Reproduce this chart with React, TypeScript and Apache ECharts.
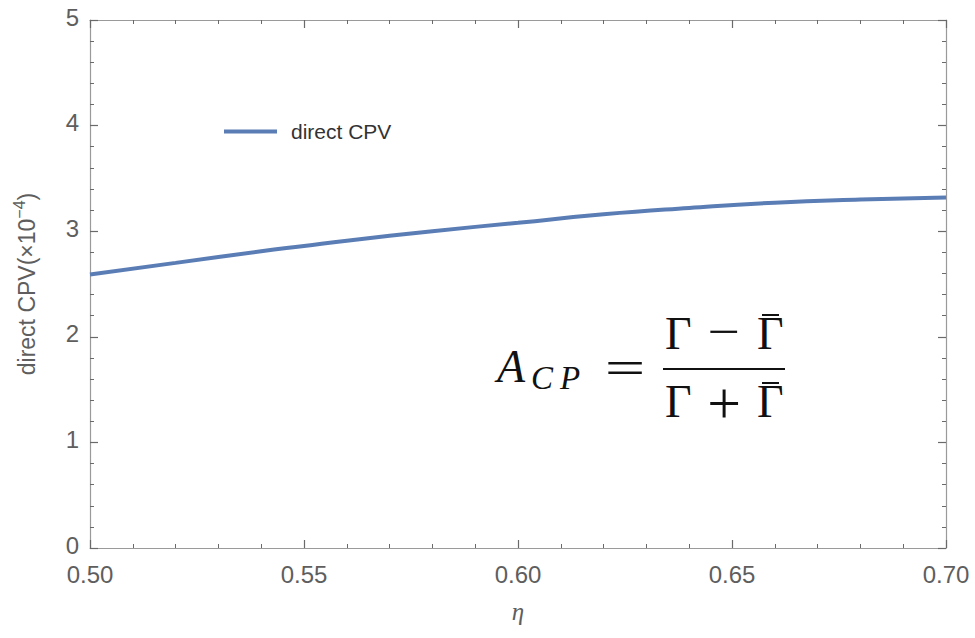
import React, { useEffect, useRef } from "react";
import * as echarts from "echarts";

const etaValues = [0.5, 0.52, 0.54, 0.55, 0.56, 0.58, 0.6, 0.62, 0.64, 0.66, 0.68, 0.7];
const cpvValues = [2.59, 2.7, 2.81, 2.86, 2.91, 3.0, 3.08, 3.16, 3.22, 3.27, 3.3, 3.32];
const seriesName = "direct CPV";
const xTicks = { min: 0.5, max: 0.7, interval: 0.05 };
const yTicks = { min: 0, max: 5, interval: 1 };

const SANS = "'Liberation Sans', Arial, sans-serif";
const SERIF = "'Liberation Serif', 'Times New Roman', serif";
const FRAME = "#9a9a9a";
const TICK = "#6a6a6a";
const LABEL = "#5e5e5e";

export default function App() {
  const ref = useRef<HTMLDivElement>(null);
  useEffect(() => {
    document.body.style.margin = "0";
    const chart = echarts.init(ref.current!, null, { renderer: "svg" });
    const frameAxis = (pos: string) => ({
      axisLine: { show: true, onZero: false, lineStyle: { color: FRAME, width: 1.2 } },
      axisTick: { show: true, inside: true, length: 8, lineStyle: { color: TICK, width: 1.2 } },
      minorTick: { show: true, splitNumber: 5, length: 4, lineStyle: { color: TICK, width: 1 } },
      splitLine: { show: false },
      position: pos,
    });
    const option: any = {
      animation: false,
      backgroundColor: "#ffffff",
      grid: { left: 90, right: 29, top: 20, bottom: 90, containLabel: false, outerBoundsMode: "none" },
      legend: {
        data: [seriesName],
        left: 219,
        top: 116,
        icon: "rect",
        itemWidth: 53,
        itemHeight: 4,
        textStyle: { fontSize: 21, color: "#333", fontFamily: SANS, padding: [0, 0, 0, 9] },
      },
      xAxis: [
        {
          type: "value",
          ...xTicks,
          ...frameAxis("bottom"),
          axisLabel: {
            fontSize: 24,
            color: LABEL,
            fontFamily: SANS,
            margin: 14,
            formatter: (v: number) => v.toFixed(2),
          },
          name: "η",
          nameLocation: "middle",
          nameGap: 51,
          nameTextStyle: { fontSize: 25, fontStyle: "italic", color: LABEL, fontFamily: SERIF },
        },
        {
          type: "value",
          ...xTicks,
          ...frameAxis("top"),
          axisLabel: { show: false },
        },
      ],
      yAxis: [
        {
          type: "value",
          ...yTicks,
          ...frameAxis("left"),
          axisLabel: { fontSize: 24, color: LABEL, fontFamily: SANS, margin: 11, verticalAlign: "bottom", padding: [0, 0, -9, 0] },
          name: "direct CPV(×10{sup|−4})",
          nameLocation: "middle",
          nameGap: 48,
          nameRotate: 90,
          nameTextStyle: {
            fontSize: 23,
            color: LABEL,
            fontFamily: SANS,
            rich: {
              sup: {
                fontSize: 16,
                color: LABEL,
                fontFamily: SANS,
                padding: [0, 0, 15, 0],
                verticalAlign: "bottom",
              },
            },
          },
        },
        {
          type: "value",
          ...yTicks,
          ...frameAxis("right"),
          axisLabel: { show: false },
        },
      ],
      series: [
        {
          name: seriesName,
          type: "line",
          smooth: true,
          showSymbol: false,
          symbol: "none",
          lineStyle: { width: 4, color: "#5b7db5" },
          itemStyle: { color: "#5b7db5" },
          data: etaValues.map((e, i) => [e, cpvValues[i]]),
        },
      ],
      graphic: [
        { type: "text", left: 497, top: 366 - 23, style: { text: "A", font: `italic 46px ${SERIF}`, fill: "#111" } },
        { type: "text", x: 531, y: 378, style: { text: "C", font: `italic 33px ${SERIF}`, fill: "#111", textVerticalAlign: "middle" } },
        { type: "text", x: 560, y: 378, style: { text: "P", font: `italic 33px ${SERIF}`, fill: "#111", textVerticalAlign: "middle" } },
        { type: "text", x: 625, y: 368, scaleX: 1.5, style: { text: "=", font: `48px ${SERIF}`, fill: "#111", textAlign: "center", textVerticalAlign: "middle" } },
        { type: "line", shape: { x1: 663, y1: 369, x2: 785, y2: 369 }, style: { stroke: "#111", lineWidth: 2 } },
        { type: "text", x: 665, y: 333, style: { text: "Γ", font: `46px ${SERIF}`, fill: "#111", textVerticalAlign: "middle" } },
        { type: "text", x: 724, y: 332, scaleX: 1.25, style: { text: "−", font: `46px ${SERIF}`, fill: "#111", textAlign: "center", textVerticalAlign: "middle" } },
        { type: "text", x: 757, y: 333, style: { text: "Γ", font: `46px ${SERIF}`, fill: "#111", textVerticalAlign: "middle" } },
        { type: "line", shape: { x1: 762, y1: 315, x2: 779, y2: 315 }, style: { stroke: "#111", lineWidth: 2 } },
        { type: "text", x: 665, y: 401, style: { text: "Γ", font: `46px ${SERIF}`, fill: "#111", textVerticalAlign: "middle" } },
        { type: "text", x: 724, y: 403, scaleX: 1.3, scaleY: 1.3, style: { text: "+", font: `46px ${SERIF}`, fill: "#111", textAlign: "center", textVerticalAlign: "middle" } },
        { type: "text", x: 757, y: 401, style: { text: "Γ", font: `46px ${SERIF}`, fill: "#111", textVerticalAlign: "middle" } },
        { type: "line", shape: { x1: 762, y1: 383, x2: 779, y2: 383 }, style: { stroke: "#111", lineWidth: 2 } },
      ],
    };
    chart.setOption(option);
    return () => chart.dispose();
  }, []);
  return <div ref={ref} style={{ width: 975, height: 638 }} />;
}
